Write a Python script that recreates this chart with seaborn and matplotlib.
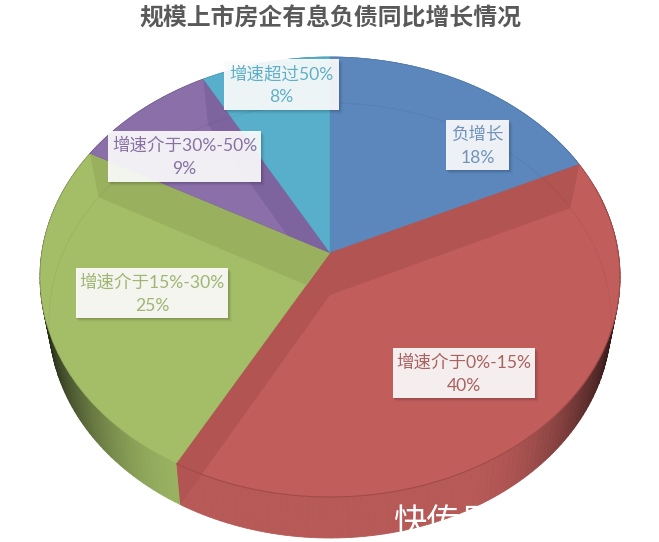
import numpy as np
import matplotlib
matplotlib.use("Agg")
import matplotlib.pyplot as plt
from matplotlib.patches import Rectangle, Polygon
from matplotlib.transforms import Transform
import seaborn as sns

slice_names = ["负增长", "增速介于0%-15%", "增速介于15%-30%", "增速介于30%-50%", "增速超过50%"]
slice_values = [18, 40, 25, 9, 8]
slice_colors = ["#5B87BD", "#C15E5C", "#A3BE67", "#8A6FA8", "#58AFCB"]
wall_colors = ["#5B87BD", "#B25452", "#99B15F", "#7D649F", "#58AFCB"]
text_colors = ["#6F93BA", "#A8625F", "#A0B574", "#8772A3", "#5FB0C6"]
title = "规模上市房企有息负债同比增长情况"

# label boxes in pixels: left, right, top, bottom
label_boxes = [(446, 509, 120, 170), (393, 535, 348, 398), (76, 228, 268, 318),
               (108, 261, 131, 182), (224, 339, 59, 110)]


class TiltTransform(Transform):
    """Perspective view of the unit circle, goes to pixel coordinates."""
    input_dims = 2
    output_dims = 2

    def __init__(self, cx, cy, rx, ry, k):
        super().__init__()
        self.cx, self.cy, self.rx, self.ry, self.k = cx, cy, rx, ry, k

    def transform_non_affine(self, values):
        values = np.asarray(values, dtype=float)
        u, v = values[:, 0], values[:, 1]
        d = 1 + self.k * v
        x = self.cx + self.rx * np.sqrt(1 - self.k ** 2) * u / d
        y = self.cy - self.ry * (v + self.k) / d
        return np.column_stack([x, y])


top_face = TiltTransform(330, 277, 290, 220, 0.109)
bottom_face = TiltTransform(330, 320.5, 281, 217.5, 0.117)


def circle_points(frac):
    # frac 0 is twelve o'clock, going clockwise
    t = 2 * np.pi * np.asarray(frac)
    return np.column_stack([np.sin(t), np.cos(t)])


def side_shade(color, x):
    t = abs(x - 330) / 285
    f = 1 - 0.8 * max(0, (t - 0.45) / 0.55) ** 2.2
    return tuple(c * f * 0.95 for c in matplotlib.colors.to_rgb(color))


sns.set_theme(style="white")
plt.rcParams["font.family"] = ["Lato", "Noto Sans CJK SC", "DejaVu Sans"]
palette = sns.color_palette(slice_colors)
walls = sns.color_palette(wall_colors)

fig = plt.figure(figsize=(6.59, 5.42), dpi=100)
ax = fig.add_axes([0, 0, 1, 1])

edges = np.cumsum([0] + slice_values) / sum(slice_values)

# outer side of the disc
for i in range(len(slice_values)):
    fr = np.linspace(edges[i], edges[i + 1], max(4, slice_values[i] * 3))
    t_pts = top_face.transform(circle_points(fr))
    b_pts = bottom_face.transform(circle_points(fr))
    for j in range(len(fr) - 1):
        quad = np.vstack([t_pts[j:j + 2], b_pts[j:j + 2][::-1]])
        shade = side_shade(palette[i], b_pts[j:j + 2, 0].mean())
        ax.fill(quad[:, 0], quad[:, 1], color=shade, lw=0.6, zorder=1)

wedges, _ = ax.pie(slice_values, colors=palette, startangle=90, counterclock=False,
                   wedgeprops=dict(linewidth=0.5))
for i, w in enumerate(wedges):
    w.set_transform(top_face + ax.transData)
    w.set_edgecolor(tuple(c * 0.9 for c in palette[i]))
    w.set_zorder(2)

ax.set_aspect("auto")
ax.set_xlim(0, 659)
ax.set_ylim(542, 0)
ax.axis("off")

# inner cut faces that show through the top: (slice, edge fraction, clip to slice)
for i, frac, clip in [(1, edges[1], False), (1, edges[2], False),
                      (2, edges[3], True), (3, edges[4], True)]:
    pts = np.vstack([circle_points([frac]), [[0, 0]]])
    t_pts = top_face.transform(pts)
    b_pts = bottom_face.transform(pts)
    quad = Polygon([t_pts[0], b_pts[0], b_pts[1], t_pts[1]], closed=True,
                   fc=walls[i], ec="none", zorder=3)
    ax.add_patch(quad)
    if clip:
        quad.set_clip_path(wedges[i])

# faint far rim seen through the disc, only on the upper half
fr = np.linspace(-0.28, 0.28, 200)
rim = bottom_face.transform(circle_points(fr))
ax.plot(rim[:, 0], rim[:, 1], color="black", alpha=0.045, lw=0.8, zorder=3)

# red part of the front rim is a sharp dark line
fr = np.linspace(edges[1] + 0.02, edges[2], 150)
rim = top_face.transform(circle_points(fr))
ax.plot(rim[:, 0], rim[:, 1], color="#A04A48", lw=0.7, zorder=4)

for i, (l, r, t, b) in enumerate(label_boxes):
    for off, a in [(4, 0.025), (3, 0.04), (2, 0.06), (1, 0.07)]:
        ax.add_patch(Rectangle((l + off - 1, t + off), r - l + 1, b - t, fc="black",
                               ec="none", alpha=a, zorder=5))
    ax.add_patch(Rectangle((l, t), r - l, b - t, fc="white", ec="none", alpha=0.91, zorder=6))
    label = f"{slice_names[i]}\n{slice_values[i]}%"
    ax.text((l + r) / 2, (t + b) / 2 + 1, label, ha="center", va="center", fontsize=12.6,
            linespacing=1.55, color=text_colors[i], zorder=7)

ax.text(330, 18, title, ha="center", va="center", fontsize=17.2, fontweight="bold",
        color="#595959", family=["Noto Sans CJK SC", "DejaVu Sans"])
ax.text(393, 522, "快传号", ha="left", va="center", fontsize=24, color="white", zorder=8,
        family=["Noto Sans CJK SC", "DejaVu Sans"])

fig.savefig("out.png", dpi=100, facecolor="white")
